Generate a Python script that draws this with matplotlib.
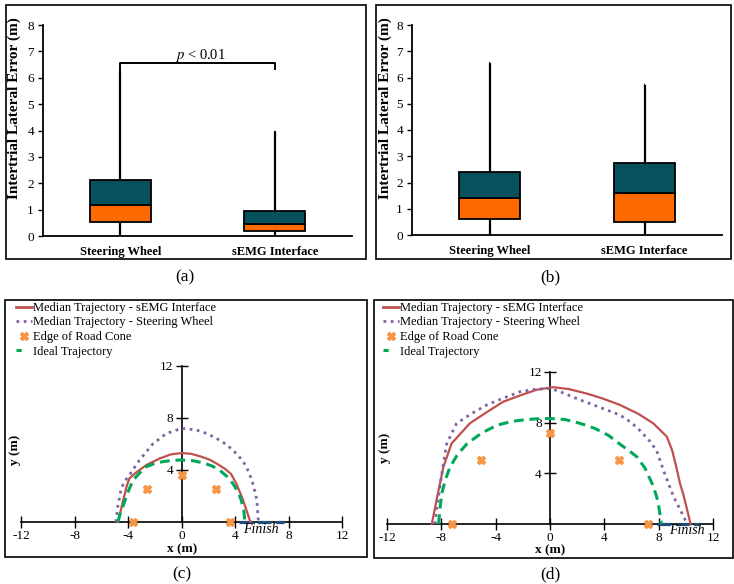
import matplotlib
matplotlib.use('Agg')
import matplotlib.pyplot as plt
from matplotlib.patches import Rectangle
from matplotlib.lines import Line2D

plt.rcParams['font.family'] = ['Liberation Serif', 'DejaVu Serif']
plt.rcParams['mathtext.fontset'] = 'stix'
plt.rcParams['axes.unicode_minus'] = False

# ---------------- data ----------------
categories = ['Steering Wheel', 'sEMG Interface']

a_min = [0.0, 0.0]
a_q1 = [0.53, 0.19]
a_med = [1.19, 0.46]
a_q3 = [2.12, 0.94]
a_max = [6.25, 3.95]

b_min = [0.0, 0.0]
b_q1 = [0.61, 0.50]
b_med = [1.40, 1.60]
b_q3 = [2.41, 2.73]
b_max = [6.54, 5.71]

# panel (c)
c_semg_x = [-4.75, -4.4, -4.1, -3.9, -3.4, -2.6, -1.6, -0.8, 0.0, 0.7, 1.4, 2.1, 2.7, 3.3, 3.7, 4.1, 4.6, 5.15]
c_semg_y = [0.0, 1.5, 2.75, 3.35, 3.8, 4.4, 4.9, 5.2, 5.3, 5.25, 5.05, 4.8, 4.45, 4.05, 3.7, 2.95, 1.7, 0.0]
c_sw_x = [-4.9, -4.75, -4.5, -4.2, -3.9, -3.15, -2.15, -1.15, 0.0, 1.1, 1.9, 2.6, 3.3, 3.83, 4.3, 4.7, 5.05, 5.33, 5.5, 5.63, 5.75]
c_sw_y = [0.0, 1.3, 2.6, 3.2, 3.6, 4.75, 6.0, 6.8, 7.2, 7.08, 6.8, 6.44, 6.0, 5.54, 5.05, 4.5, 3.8, 2.97, 2.3, 1.7, 0.0]
c_ideal_x = [-4.75, -4.6, -4.38, -4.0, -3.64, -3.1, -2.64, -2.0, -1.4, -0.7, 0.0, 0.8, 1.6, 2.3, 2.84, 3.4, 3.83, 4.2, 4.46, 4.65, 4.75]
c_ideal_y = [0.0, 0.6, 1.2, 2.3, 3.2, 3.8, 4.25, 4.5, 4.64, 4.74, 4.77, 4.72, 4.56, 4.3, 4.0, 3.5, 2.97, 2.4, 1.7, 0.9, 0.0]
c_cone_x = [-3.6, -2.55, 0.0, 2.55, 3.6]
c_cone_y = [0.0, 2.55, 3.6, 2.55, 0.0]
c_finish_x = [4.3, 7.7]

# panel (d)
d_semg_x = [-8.7, -8.35, -7.85, -7.25, -5.9, -4.7, -3.45, -2.2, -0.98, 0.25, 1.4, 2.7, 3.9, 5.15, 6.5, 7.6, 8.6, 9.0, 9.3, 9.57, 9.8, 10.35]
d_semg_y = [0.0, 1.9, 4.5, 6.35, 7.95, 8.8, 9.65, 10.15, 10.6, 10.8, 10.65, 10.3, 9.9, 9.4, 8.7, 7.95, 6.9, 5.8, 4.5, 3.2, 2.4, 0.0]
d_sw_x = [-8.47, -8.3, -8.1, -7.85, -7.6, -6.87, -5.8, -4.66, -3.4, -2.2, -1.0, 0.0, 0.74, 2.2, 3.7, 5.15, 6.0, 6.6, 7.3, 7.85, 8.35, 9.1, 9.6, 10.1]
d_sw_y = [0.0, 1.5, 2.95, 4.8, 6.35, 7.95, 8.7, 9.4, 9.95, 10.45, 10.65, 10.7, 10.45, 9.8, 9.2, 8.6, 8.0, 7.4, 6.6, 5.8, 4.25, 2.15, 1.1, 0.0]
d_ideal_x = [-8.2, -8.1, -7.97, -7.7, -7.36, -6.8, -6.1, -5.0, -3.9, -2.8, -1.7, -0.7, 0.0, 1.1, 2.2, 3.3, 4.3, 5.15, 5.8, 6.4, 7.0, 7.6, 7.95, 8.2]
d_ideal_y = [0.0, 1.2, 2.4, 3.5, 4.5, 5.5, 6.35, 7.2, 7.8, 8.1, 8.25, 8.32, 8.33, 8.25, 7.95, 7.55, 7.0, 6.3, 5.8, 5.3, 4.4, 3.0, 1.8, 0.0]
d_cone_x = [-7.2, -5.08, 0.0, 5.08, 7.2]
d_cone_y = [0.0, 5.05, 7.15, 5.05, 0.0]
d_finish_x = [7.85, 11.05]

legend_labels = ['Median Trajectory - sEMG Interface', 'Median Trajectory - Steering Wheel',
                 'Edge of Road Cone', 'Ideal Trajectory']

# ---------------- styles ----------------
TEAL = '#07505e'
ORANGE = '#ff6a00'
RED = '#c0504d'
PURPLE = '#8064a2'
CONE = '#f79646'
GREEN = '#00a859'
BLUE = '#1f4e79'

W, H = 734, 584
fig = plt.figure(figsize=(W / 100, H / 100), dpi=100)


def fx(px):
    return px / W


def fy(py):
    return 1 - py / H


def frame(x0, y0, x1, y1):
    fig.add_artist(Rectangle((fx(x0), fy(y1)), fx(x1) - fx(x0), fy(y0) - fy(y1),
                             transform=fig.transFigure, fill=False, lw=1.2, ec='black'))


def boxpanel(rect, q1, med, q3, wmin, wmax):
    ax = fig.add_axes(rect)
    pos = [1, 2]
    lows = [m - q for m, q in zip(med, q1)]
    ups = [q - m for q, m in zip(q3, med)]
    ax.vlines(pos, wmin, q1, color='black', lw=1.6, zorder=1)
    ax.vlines(pos, q3, wmax, color='black', lw=1.6, zorder=1)
    ax.hlines(wmax, [p - 0.006 for p in pos], [p + 0.006 for p in pos], color='black', lw=1.6)
    ax.bar(pos, lows, bottom=q1, width=0.395, color=ORANGE, edgecolor='black', lw=1.3, zorder=2)
    ax.bar(pos, ups, bottom=med, width=0.395, color=TEAL, edgecolor='black', lw=1.3, zorder=2)
    ax.set_xlim(0.5, 2.5)
    ax.set_ylim(0, 8)
    ax.set_yticks(range(0, 9))
    ax.set_xticks(pos)
    ax.set_xticklabels(categories, fontweight='bold', fontsize=9)
    ax.tick_params(axis='x', length=0, pad=7)
    ax.tick_params(axis='y', length=3.5, width=1.0, pad=3, labelsize=9.5, direction='out')
    for s in ['top', 'right']:
        ax.spines[s].set_visible(False)
    for s in ['left', 'bottom']:
        ax.spines[s].set_linewidth(1.3)
    return ax


# ---------------- panel (a) ----------------
axa = boxpanel([fx(43), fy(236), fx(352) - fx(43), fy(25) - fy(236)], a_q1, a_med, a_q3, a_min, a_max)
axa.plot([1, 1, 2, 2], [6.29, 6.55, 6.55, 6.33], color='black', lw=1.4)
axa.text(1.516, 6.86, '$p$ < 0.01', ha='center', va='center', fontsize=10.5)
fig.text(fx(14), fy(108), 'Intertrial Lateral Error (m)', rotation=90, ha='center', va='center',
         fontweight='bold', fontsize=11)
frame(6, 5, 366, 259)
fig.text(fx(185), fy(277), '(a)', ha='center', va='center', fontsize=12.5)

# ---------------- panel (b) ----------------
axb = boxpanel([fx(412), fy(235), fx(722) - fx(412), fy(25) - fy(235)], b_q1, b_med, b_q3, b_min, b_max)
fig.text(fx(385), fy(108), 'Intertrial Lateral Error (m)', rotation=90, ha='center', va='center',
         fontweight='bold', fontsize=11)
frame(376, 5, 731, 259)
fig.text(fx(550), fy(277), '(b)', ha='center', va='center', fontsize=12.5)


# ---------------- trajectory panels ----------------
def trajpanel(rect, sx, sy, wx, wy, ix, iy, cx, cy, finx, finish_text_x, leg_px):
    ax = fig.add_axes(rect)
    ax.set_xlim(-12, 12)
    ax.set_ylim(0, 12)
    for s in ['top', 'right']:
        ax.spines[s].set_visible(False)
    ax.spines['left'].set_position(('data', 0))
    ax.spines['bottom'].set_position(('data', 0))
    ax.spines['left'].set_linewidth(1.2)
    ax.spines['bottom'].set_linewidth(1.2)
    ax.set_xticks([-12, -8, -4, 0, 4, 8, 12])
    ax.set_yticks([4, 8, 12])
    ax.tick_params(axis='both', direction='inout', length=8, width=1.0, labelsize=9.5, pad=2)
    ax.patch.set_visible(False)

    ax.plot(finx, [0, 0], color=BLUE, lw=2.3, ls=(0, (4.3, 1.4)), clip_on=False, zorder=3,
            solid_capstyle='butt')
    ax.plot(sx, sy, color=RED, lw=1.6, clip_on=False, zorder=4)
    ax.plot(wx, wy, color=PURPLE, lw=2.0, ls=(0, (1, 1.6)), clip_on=False, zorder=4)
    ax.plot(ix, iy, color=GREEN, lw=2.2, ls=(0, (3.2, 1.9)), clip_on=False, zorder=4)
    ax.plot(cx, cy, ls='none', marker='X', color=CONE, markersize=6, clip_on=False, zorder=5)
    ax.text(finish_text_x, -0.55, 'Finish', style='italic', fontsize=10, ha='center', va='center')

    lh1 = Line2D([], [], color=RED, lw=2.0)
    lh2 = Line2D([], [], color=PURPLE, lw=2.0, ls=(0, (1, 1.6)))
    lh3 = Line2D([], [], ls='none', marker='X', color=CONE, markersize=5.5)
    lh4 = Line2D([], [], color=GREEN, lw=2.2, ls=(1.5, (3.2, 5)))
    fig.legend([lh1, lh2, lh3, lh4], legend_labels, loc='upper left',
               bbox_to_anchor=(fx(leg_px), fy(302)), frameon=False, fontsize=9,
               handlelength=1.25, handletextpad=0.1, labelspacing=0.2,
               borderpad=0, borderaxespad=0)
    return ax


axc = trajpanel([fx(21), fy(522), fx(342) - fx(21), fy(366) - fy(522)],
                c_semg_x, c_semg_y, c_sw_x, c_sw_y, c_ideal_x, c_ideal_y,
                c_cone_x, c_cone_y, c_finish_x, 5.95, 16)
fig.text(fx(15), fy(450), 'y (m)', rotation=90, ha='center', va='center', fontweight='bold', fontsize=9.5)
fig.text(fx(182), fy(549.5), 'x (m)', ha='center', va='center', fontweight='bold', fontsize=9.5)
frame(5, 300, 367, 557)
fig.text(fx(182), fy(574), '(c)', ha='center', va='center', fontsize=12.5)

axd = trajpanel([fx(387), fy(524), fx(713) - fx(387), fy(372) - fy(524)],
                d_semg_x, d_semg_y, d_sw_x, d_sw_y, d_ideal_x, d_ideal_y,
                d_cone_x, d_cone_y, d_finish_x, 10.07, 383)
fig.text(fx(385), fy(448), 'y (m)', rotation=90, ha='center', va='center', fontweight='bold', fontsize=9.5)
fig.text(fx(550), fy(550.5), 'x (m)', ha='center', va='center', fontweight='bold', fontsize=9.5)
frame(374, 300, 733, 558)
fig.text(fx(550), fy(574), '(d)', ha='center', va='center', fontsize=12.5)

fig.savefig('out.png', dpi=100)
